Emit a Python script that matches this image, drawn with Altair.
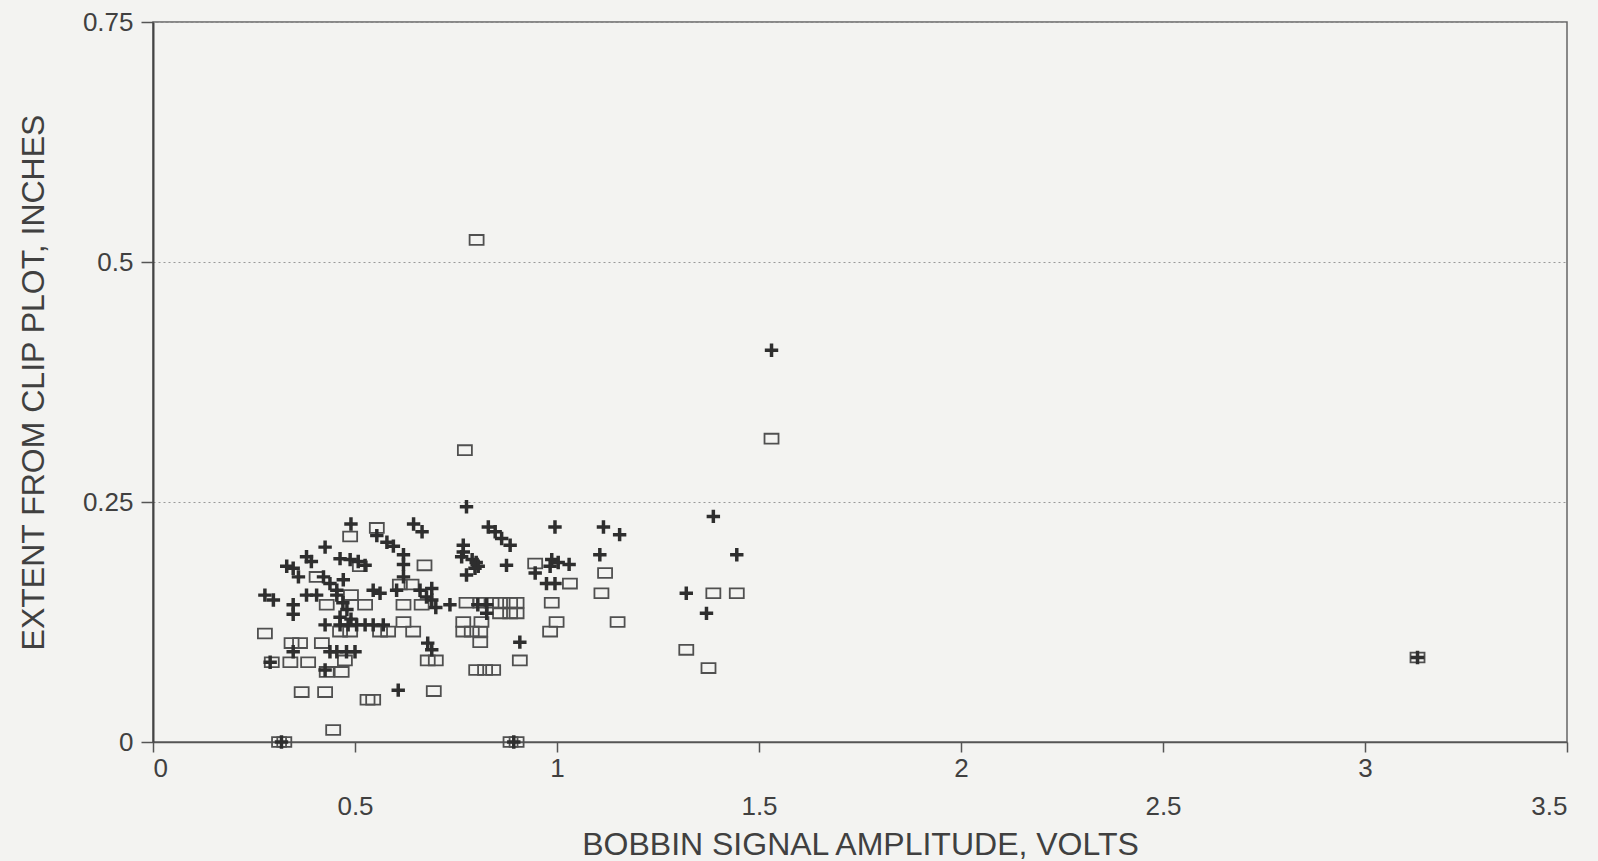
import altair as alt
import pandas as pd

# Series 1: open squares
sq_x = [0.488, 0.554, 0.672, 0.277, 0.343, 0.364, 0.418, 0.294, 0.340, 0.384,
        0.475, 0.467, 0.430, 0.368, 0.426, 0.531, 0.545, 0.446, 0.312, 0.325,
        0.695, 0.430, 0.525, 0.620, 0.665, 0.463, 0.488, 0.562, 0.582, 0.644,
        0.620, 0.490, 0.405, 0.611, 0.640, 0.512, 0.680, 0.700,
        0.946, 1.032, 1.119, 1.110, 1.150, 0.776, 0.810, 0.838, 0.859, 0.884,
        0.900, 0.859, 0.884, 0.900, 0.768, 0.813, 0.768, 0.789, 0.810, 0.810,
        0.987, 0.999, 0.983, 0.908, 0.800, 0.822, 0.842, 0.885, 0.900,
        1.387, 1.445, 1.320, 1.375, 0.801, 0.772, 1.531, 3.130]
sq_y = [0.214, 0.223, 0.184, 0.113, 0.103, 0.103, 0.103, 0.083, 0.083, 0.083,
        0.085, 0.073, 0.073, 0.052, 0.052, 0.044, 0.044, 0.0125, 0.0, 0.0,
        0.053, 0.143, 0.143, 0.143, 0.143, 0.115, 0.115, 0.115, 0.115, 0.115,
        0.125, 0.153, 0.172, 0.164, 0.164, 0.183, 0.085, 0.085,
        0.186, 0.165, 0.176, 0.155, 0.125, 0.145, 0.145, 0.145, 0.145, 0.145,
        0.145, 0.134, 0.134, 0.134, 0.125, 0.125, 0.115, 0.115, 0.115, 0.104,
        0.145, 0.125, 0.115, 0.085, 0.075, 0.075, 0.075, 0.0, 0.0,
        0.155, 0.155, 0.096, 0.077, 0.523, 0.304, 0.316, 0.088]

# Series 2: plus signs
pl_x = [0.490, 0.645, 0.666, 0.426, 0.554, 0.579, 0.595, 0.380, 0.392, 0.331,
        0.347, 0.360, 0.463, 0.488, 0.508, 0.525, 0.620, 0.620, 0.620, 0.422,
        0.438, 0.455, 0.471, 0.277, 0.298, 0.347, 0.347, 0.380, 0.405, 0.455,
        0.470, 0.480, 0.463, 0.490, 0.545, 0.562, 0.603, 0.661, 0.677, 0.426,
        0.463, 0.483, 0.504, 0.525, 0.545, 0.570, 0.438, 0.455, 0.479, 0.500,
        0.347, 0.290, 0.426, 0.607, 0.680, 0.690,
        0.776, 0.830, 0.847, 0.863, 0.884, 0.995, 1.115, 1.155, 0.768, 0.768,
        0.764, 0.790, 0.800, 0.805, 0.797, 0.875, 0.776, 0.987, 1.003, 1.030,
        0.983, 1.106, 0.946, 0.974, 0.995, 0.690, 0.690, 0.700, 0.735, 0.804,
        0.826, 0.826, 0.908,
        1.387, 1.445, 1.320, 1.370, 1.531, 3.130, 0.318, 0.893]
pl_y = [0.227, 0.227, 0.219, 0.203, 0.215, 0.208, 0.204, 0.193, 0.188, 0.183,
        0.181, 0.172, 0.191, 0.190, 0.188, 0.184, 0.195, 0.185, 0.172, 0.172,
        0.165, 0.158, 0.169, 0.153, 0.148, 0.143, 0.133, 0.153, 0.153, 0.153,
        0.145, 0.138, 0.130, 0.128, 0.158, 0.155, 0.158, 0.158, 0.151, 0.122,
        0.122, 0.122, 0.122, 0.122, 0.122, 0.122, 0.094, 0.094, 0.094, 0.094,
        0.094, 0.083, 0.075, 0.054, 0.103, 0.096,
        0.245, 0.224, 0.219, 0.212, 0.205, 0.224, 0.224, 0.216, 0.205, 0.198,
        0.193, 0.190, 0.187, 0.183, 0.181, 0.184, 0.174, 0.190, 0.187, 0.185,
        0.183, 0.195, 0.176, 0.165, 0.165, 0.160, 0.148, 0.140, 0.143, 0.143,
        0.143, 0.134, 0.104,
        0.235, 0.195, 0.155, 0.134, 0.408, 0.088, 0.0, 0.0]

x_ticks = [0, 0.5, 1, 1.5, 2, 2.5, 3, 3.5]
y_ticks = [0, 0.25, 0.5, 0.75]

sq_df = pd.DataFrame({"amp": sq_x, "ext": sq_y})
pl_df = pd.DataFrame({"amp": pl_x, "ext": pl_y})

FONT = "Liberation Sans"
INK = "#404040"

x_enc = alt.X(
    "amp:Q",
    scale=alt.Scale(domain=[0, 3.5], nice=False, zero=True),
    axis=alt.Axis(
        values=x_ticks,
        labelExpr="datum.value % 1 == 0 ? format(datum.value, '~g') : ['', format(datum.value, '~g')]",
        labelLineHeight=38,
        labelOverlap=False,
        labelFontSize=26,
        labelFont=FONT,
        labelColor=INK,
        labelPadding=3,
        tickSize=10,
        tickColor="#555555",
        tickWidth=1.5,
        domainColor="#555555",
        domainWidth=1.5,
        grid=False,
        title="BOBBIN SIGNAL AMPLITUDE, VOLTS",
        titleFont=FONT,
        titleFontSize=32,
        titleFontWeight="normal",
        titleColor=INK,
        titleBaseline="middle",
        titleY=102,
    ),
)
y_enc = alt.Y(
    "ext:Q",
    scale=alt.Scale(domain=[0, 0.75], nice=False, zero=True),
    axis=alt.Axis(
        values=y_ticks,
        labelExpr="format(datum.value, '.2~f')",
        labelFontSize=26,
        labelFont=FONT,
        labelColor=INK,
        labelPadding=8,
        tickSize=12,
        tickColor="#555555",
        tickWidth=1.5,
        domainColor="#444444",
        domainWidth=2,
        grid=True,
        gridColor="#999999",
        gridDash=[2, 3],
        gridWidth=1,
        title="EXTENT FROM CLIP PLOT, INCHES",
        titleFont=FONT,
        titleFontSize=32,
        titleFontWeight="normal",
        titleColor=INK,
        titleX=-120,
        titleY=360,
        titleAlign="center",
        titleBaseline="middle",
    ),
)

rect_path = "M-1,-0.7H1V0.7H-1Z"
plus_path = ("M-1,-0.26H-0.26V-1H0.26V-0.26H1V0.26H0.26V1H-0.26V0.26H-1Z"
             "M0,-0.55L0.55,0L0,0.55L-0.55,0Z")

squares = alt.Chart(sq_df).mark_point(
    shape=rect_path, size=196, filled=False, stroke="#505050", strokeWidth=1.8, opacity=1
).encode(x=x_enc, y=y_enc)

pluses = alt.Chart(pl_df).mark_point(
    shape=plus_path, size=180, filled=True, color="#2e2e2e", opacity=1, strokeWidth=0
).encode(x=x_enc, y=y_enc)

chart = (
    alt.layer(squares, pluses)
    .properties(
        width=1414,
        height=720,
        autosize=alt.AutoSizeParams(type="none"),
        padding={"left": 153, "top": 22, "right": 31, "bottom": 119},
        background="#f3f3f1",
    )
    .configure_view(stroke="#666666", strokeWidth=1.5)
)

chart.save("out.html", embed_options={"renderer": "svg", "actions": False})
